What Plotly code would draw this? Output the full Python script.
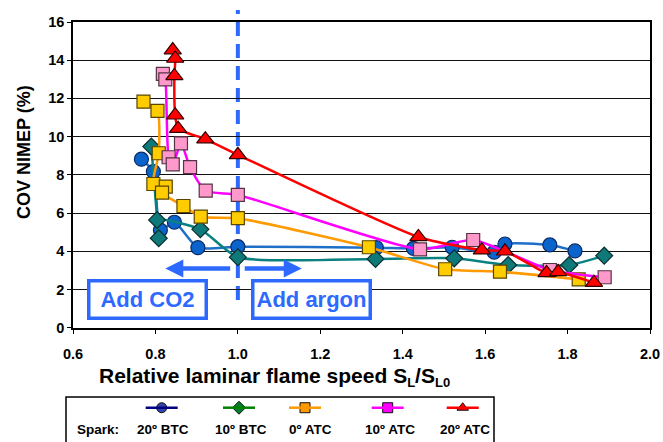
import plotly.graph_objects as go

# ---------------- data ----------------
series_names = ["20º BTC", "10º BTC", "0º ATC", "10º ATC", "20º ATC"]

btc20_x = [0.766, 0.795, 0.812, 0.846, 0.903, 1.000, 1.336, 1.426, 1.520, 1.622, 1.648, 1.757, 1.818]
btc20_y = [8.82, 8.17, 5.11, 5.52, 4.19, 4.24, 4.19, 4.15, 4.21, 3.95, 4.38, 4.33, 4.02]

btc10_x = [0.790, 0.808, 0.804, 0.909, 1.000, 1.334, 1.525, 1.656, 1.804, 1.889]
btc10_y = [9.48, 4.68, 5.64, 5.15, 3.69, 3.60, 3.63, 3.28, 3.28, 3.77]

atc0_x = [0.771, 0.805, 0.808, 0.795, 0.825, 0.816, 0.868, 0.910, 1.000, 1.318, 1.503, 1.636, 1.827]
atc0_y = [11.83, 11.35, 9.13, 7.52, 7.38, 7.07, 6.37, 5.81, 5.73, 4.21, 3.06, 2.93, 2.53]

atc10_x = [0.818, 0.824, 0.832, 0.842, 0.862, 0.884, 0.922, 1.000, 1.442, 1.571, 1.757, 1.890]
atc10_y = [13.28, 13.00, 8.92, 8.55, 9.65, 8.40, 7.17, 6.95, 4.10, 4.59, 3.02, 2.64]

atc20_x = [0.842, 0.848, 0.846, 0.848, 0.855, 0.921, 1.000, 1.438, 1.592, 1.648, 1.749, 1.777, 1.864]
atc20_y = [14.53, 14.09, 13.18, 11.12, 10.42, 9.87, 9.05, 4.75, 4.06, 4.00, 2.87, 2.92, 2.36]

x_ticks = [0.6, 0.8, 1.0, 1.2, 1.4, 1.6, 1.8, 2.0]
y_ticks = [0, 2, 4, 6, 8, 10, 12, 14, 16]
x_range = [0.6, 2.0]
y_range = [0, 16]
divider_x = 1.0

# ---------------- styles ----------------
FONT = "Liberation Sans, Arial, sans-serif"
W, H = 663, 442
ML, MR, MT, MB = 73, 13, 22, 0
PW, PH = W - ML - MR, H - MT - MB
BLUE_ANN = "rgb(45,105,255)"

def px_x(p):  # pixel -> paper x
    return (p - ML) / PW

def px_y(p):  # pixel -> paper y
    return (H - p) / PH

styles = [
    dict(line="#1f6fc8", fill="#0a64cc", edge="#0b2a66", symbol="circle", size=14),
    dict(line="#0a8080", fill="#0f7878", edge="#0b2f2f", symbol="diamond", size=13),
    dict(line="#ff9a00", fill="#ffcc00", edge="#5a4500", symbol="square", size=13),
    dict(line="#ff00ff", fill="#ff99cc", edge="#553344", symbol="square", size=13),
    dict(line="#ff0000", fill="#ff0000", edge="#330000", symbol="triangle-up", size=15),
]
data = [(btc20_x, btc20_y), (btc10_x, btc10_y), (atc0_x, atc0_y),
        (atc10_x, atc10_y), (atc20_x, atc20_y)]

fig = go.Figure()
for name, (xs, ys), st in zip(series_names, data, styles):
    fig.add_trace(go.Scatter(
        x=xs, y=ys, name=name, mode="lines+markers",
        line=dict(color=st["line"], width=2.5, shape="spline", smoothing=0.6),
        marker=dict(symbol=st["symbol"], size=st["size"], color=st["fill"],
                    line=dict(color=st["edge"], width=1.2)),
        showlegend=False, cliponaxis=False,
    ))

# ---------------- custom legend (samples above label) ----------------
leg_styles = [
    dict(line="#000080", fill="#3344aa", symbol="circle"),
    dict(line="#008000", fill="#00802a", symbol="diamond"),
    dict(line="#ff9900", fill="#ff9900", symbol="square"),
    dict(line="#ff00ff", fill="#ff00ff", symbol="square"),
    dict(line="#ff0000", fill="#ff0000", symbol="triangle-up"),
]
leg_px = [161.7, 239.0, 305.0, 387.7, 462.7]
leg_lbl_px = [163.2, 240.5, 310.5, 390.2, 464.5]
LEG_TOP = px_y(397)
leg_line_y = px_y(407.7)
leg_lbl_y = px_y(429)

shapes = []
shapes.append(dict(type="rect", xref="paper", yref="paper",
                   x0=px_x(66), x1=px_x(494), y0=px_y(470), y1=LEG_TOP,
                   line=dict(color="black", width=1.5), fillcolor="rgba(0,0,0,0)", layer="below"))
for xp, st in zip(leg_px, leg_styles):
    shapes.append(dict(type="line", xref="paper", yref="paper",
                       x0=px_x(xp - 16), x1=px_x(xp + 16), y0=leg_line_y, y1=leg_line_y,
                       line=dict(color=st["line"], width=2.5)))
    fig.add_trace(go.Scatter(
        x=[px_x(xp)], y=[leg_line_y / LEG_TOP * 0.999], xaxis="x2", yaxis="y2", mode="markers",
        marker=dict(symbol=st["symbol"], size=10, color=st["fill"],
                    line=dict(color="#111", width=1)),
        showlegend=False, hoverinfo="skip", cliponaxis=False))

annotations = []
annotations.append(dict(text="<b>Spark:</b>", xref="paper", yref="paper",
                        x=px_x(97.5), y=leg_lbl_y, xanchor="center", yanchor="middle",
                        showarrow=False, font=dict(family=FONT, size=13.5, color="black")))
for xp, name in zip(leg_lbl_px, series_names):
    annotations.append(dict(text=f"<b>{name}</b>", xref="paper", yref="paper",
                            x=px_x(xp), y=leg_lbl_y, xanchor="center", yanchor="middle",
                            showarrow=False, font=dict(family=FONT, size=13.5, color="black")))

# ---------------- dashed divider ----------------
div_paper_x = (divider_x - x_range[0]) / (x_range[1] - x_range[0])
shapes.append(dict(type="line", xref="paper", yref="paper",
                   x0=div_paper_x, x1=div_paper_x, y0=px_y(300), y1=px_y(10),
                   line=dict(color=BLUE_ANN, width=4, dash="14px,8px"), layer="below"))

# arrows
annotations.append(dict(x=0.824, y=3.1, ax=0.985, ay=3.1, xref="x", yref="y",
                        axref="x", ayref="y", text="", showarrow=True,
                        arrowhead=2, arrowsize=0.8, arrowwidth=4.5, arrowcolor=BLUE_ANN))
annotations.append(dict(x=1.155, y=3.1, ax=1.013, ay=3.1, xref="x", yref="y",
                        axref="x", ayref="y", text="", showarrow=True,
                        arrowhead=2, arrowsize=0.8, arrowwidth=4.5, arrowcolor=BLUE_ANN))

# text boxes
for txt, cx in [("Add CO2", 0.781), ("Add argon", 1.179)]:
    annotations.append(dict(text=f"<b>{txt}</b>", x=cx, y=1.47, xref="x", yref="y",
                            xanchor="center", yanchor="middle",
                            showarrow=False, width=110, height=30, borderpad=2,
                            borderwidth=3.5, bordercolor=BLUE_ANN, bgcolor="white",
                            font=dict(family=FONT, size=22, color=BLUE_ANN)))

# axis titles
annotations.append(dict(text="<b>COV NIMEP (%)</b>", xref="paper", yref="paper",
                        x=px_x(24), y=px_y(152), textangle=-90, showarrow=False,
                        xanchor="center", yanchor="middle",
                        font=dict(family=FONT, size=18, color="black")))
sub = "<sub><span style='font-size:13px'>{}</span></sub>"
annotations.append(dict(text="<b>Relative laminar flame speed S" + sub.format("L") + "/S" + sub.format("L0") + "</b>",
                        xref="paper", yref="paper", x=px_x(97), y=px_y(377),
                        xanchor="left", yanchor="middle", showarrow=False,
                        font=dict(family=FONT, size=21, color="black")))

fig.update_layout(
    width=W, height=H,
    margin=dict(l=ML, r=MR, t=MT, b=MB, autoexpand=False),
    paper_bgcolor="white", plot_bgcolor="white",
    shapes=shapes, annotations=annotations,
    xaxis=dict(range=x_range, tickvals=x_ticks, ticktext=[f"<b>{v:.1f}</b>" for v in x_ticks],
               domain=[0, 1], anchor="y", showgrid=False, zeroline=False,
               showline=True, linecolor="black", linewidth=1.5, mirror=True,
               ticks="outside", ticklen=5, tickcolor="black", tickwidth=1.2,
               ticklabelstandoff=7,
               tickfont=dict(family=FONT, size=14.5, color="black")),
    yaxis=dict(range=y_range, tickvals=y_ticks, ticktext=[f"<b>{v}</b>" for v in y_ticks],
               domain=[px_y(327.7), 1], anchor="x", showgrid=True, gridcolor="#111", gridwidth=1,
               zeroline=False, showline=True, linecolor="black", linewidth=1.5, mirror=True,
               ticks="outside", ticklen=4, tickcolor="black", tickwidth=1.2,
               tickfont=dict(family=FONT, size=14.5, color="black")),
    xaxis2=dict(domain=[0, 1], range=[0, 1], visible=False, anchor="y2", fixedrange=True),
    yaxis2=dict(domain=[0, LEG_TOP], range=[0, 1], visible=False, anchor="x2", fixedrange=True),
)

fig.write_html("out.html")
